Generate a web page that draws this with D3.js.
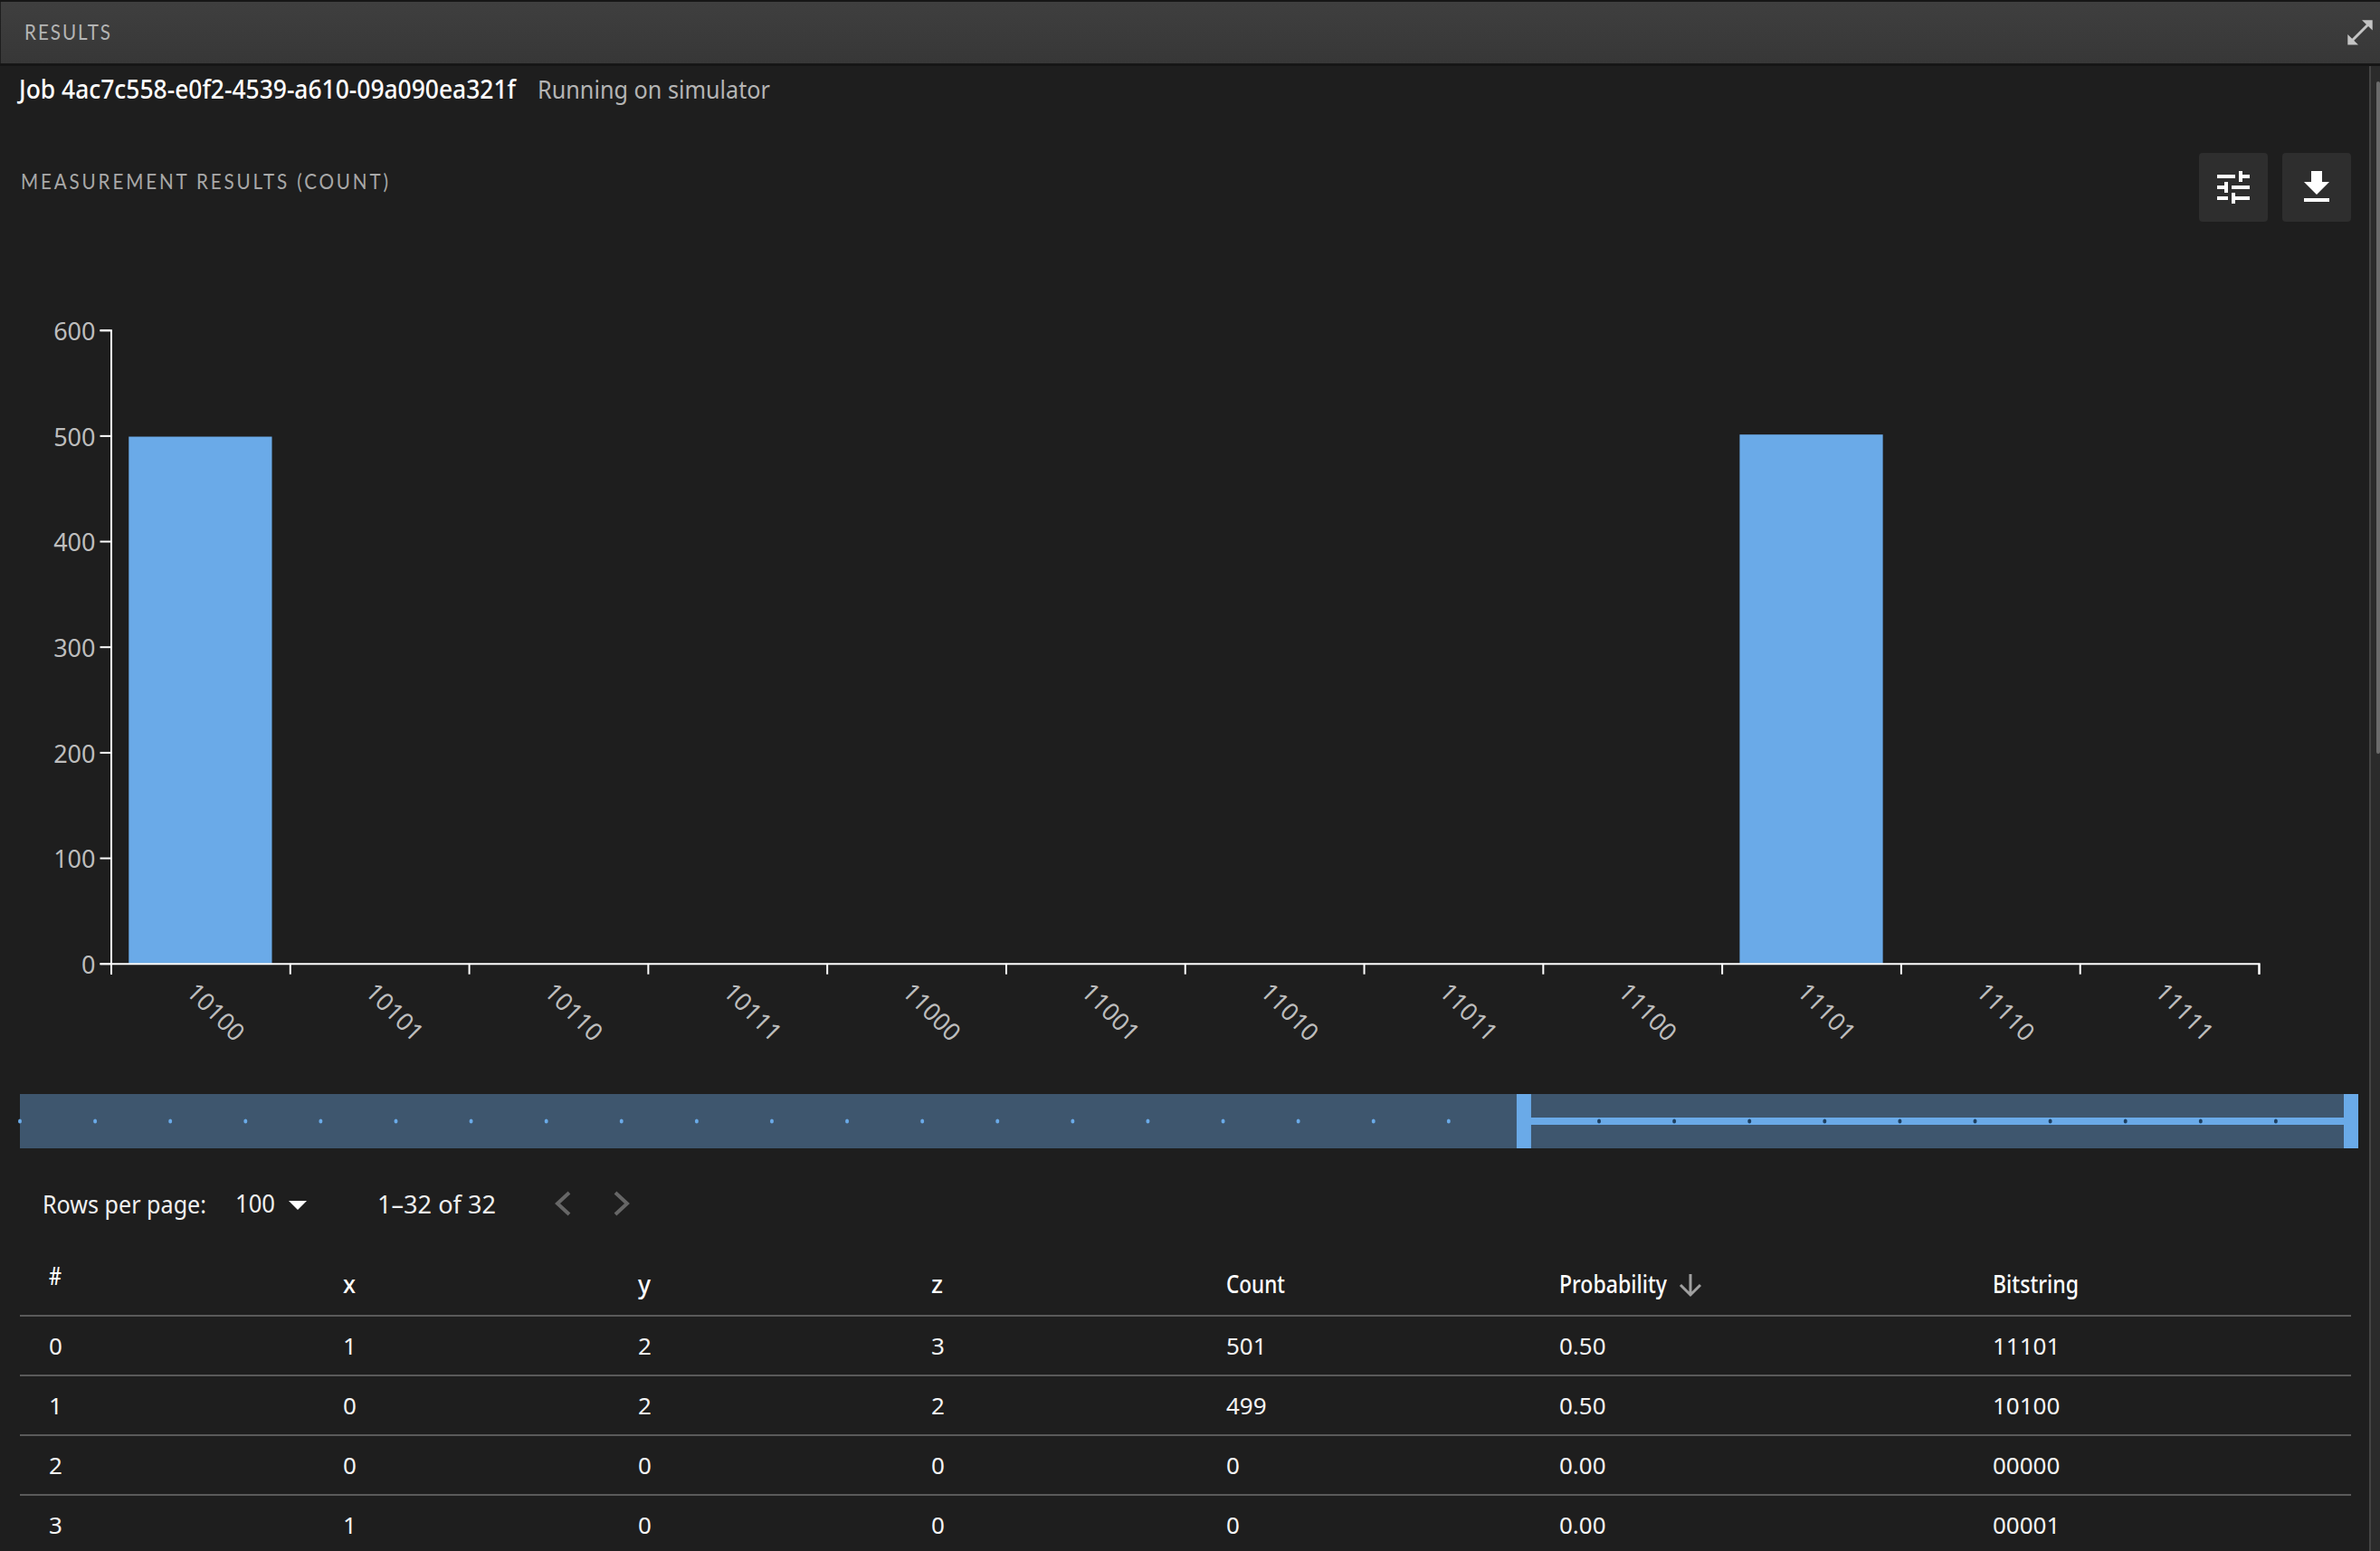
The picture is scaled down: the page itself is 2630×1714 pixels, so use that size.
<!DOCTYPE html>
<html>
<head>
<meta charset="utf-8">
<title>Measurement results</title>
<script src="https://cdn.jsdelivr.net/npm/d3@7/dist/d3.min.js"></script>
<style>
  html, body { margin: 0; padding: 0; background: #1e1e1e; overflow: hidden; }
  svg { display: block; }
  text { font-family: "Noto Sans", "Open Sans", sans-serif; }
  text.caps { font-family: "Lato", sans-serif; }
</style>
</head>
<body>
<svg id="panel" width="2630" height="1714"></svg>
<script>
// Every basis state of the 5-qubit register, in axis order.
const allBitstrings = [
  "00000","00001","00010","00011","00100","00101","00110","00111",
  "01000","01001","01010","01011","01100","01101","01110","01111",
  "10000","10001","10010","10011","10100","10101","10110","10111",
  "11000","11001","11010","11011","11100","11101","11110","11111"
];
// Part of the range currently selected by the brush.
const selectedCategories = allBitstrings.slice(20);
const selectedCounts = [499, 0, 0, 0, 0, 0, 0, 0, 0, 501, 0, 0];
const countTicks = [0, 100, 200, 300, 400, 500, 600];

// Table page.
const tableColumns = ["#", "x", "y", "z", "Count", "Probability", "Bitstring"];
const rowIds = ["0", "1", "2", "3"];
const rowX = ["1", "0", "0", "1"];
const rowY = ["2", "2", "0", "0"];
const rowZ = ["3", "2", "0", "0"];
const rowCounts = ["501", "499", "0", "0"];
const rowProbabilities = ["0.50", "0.50", "0.00", "0.00"];
const rowBitstrings = ["11101", "10100", "00000", "00001"];

const BLUE = "#6aaae8";
const svg = d3.select("#panel");

function label(parent, str, x, y, size, fill, opts = {}) {
  return parent.append("text").attr("x", x).attr("y", y)
    .attr("class", opts.cls || null)
    .attr("font-size", size).attr("fill", fill)
    .attr("font-weight", opts.weight || 400)
    .attr("textLength", opts.width || null)
    .attr("lengthAdjust", opts.width ? "spacingAndGlyphs" : null)
    .text(str);
}

// Condensed, tracked capitals for the section headings.
function capsLabel(parent, str, x, y, size, fill, width) {
  const squeeze = 0.86;
  return parent.append("text").attr("class", "caps")
    .attr("transform", `translate(${x},${y}) scale(${squeeze},1)`)
    .attr("font-size", size).attr("fill", fill)
    .attr("textLength", width / squeeze).attr("lengthAdjust", "spacing")
    .text(str);
}

// Panel header
const defs = svg.append("defs");
const headGrad = defs.append("linearGradient").attr("id", "head").attr("x2", 0).attr("y2", 1);
headGrad.append("stop").attr("offset", 0).attr("stop-color", "#3f3f3f");
headGrad.append("stop").attr("offset", 1).attr("stop-color", "#373737");
svg.append("rect").attr("width", 2630).attr("height", 2).attr("fill", "#161616");
svg.append("rect").attr("x", 1).attr("y", 2).attr("width", 2629).attr("height", 68).attr("fill", "url(#head)");
svg.append("rect").attr("y", 70).attr("width", 2630).attr("height", 3).attr("fill", "#161616");
capsLabel(svg, "RESULTS", 27, 44, 24, "#b4b4b4", 95);
svg.append("path").attr("fill", "#c4c4c4")
  .attr("d", "M2594.3 49.5V38L2606 49.5ZM2621.7 22.3H2610L2621.7 33.5Z");
svg.append("path").attr("stroke", "#c4c4c4").attr("stroke-width", 3).attr("fill", "none")
  .attr("d", "M2599 45L2617 27");

// Job line
label(svg, "Job 4ac7c558-e0f2-4539-a610-09a090ea321f", 21, 109, 28, "#ffffff", { weight: 500, width: 549 });
label(svg, "Running on simulator", 594, 109, 28, "#b4b4b4", { width: 257 });
capsLabel(svg, "MEASUREMENT RESULTS (COUNT)", 23, 209, 24, "#a8a8a8", 406);

// Toolbar buttons
[2430, 2522].forEach(x => svg.append("rect").attr("x", x).attr("y", 169)
  .attr("width", 76).attr("height", 76).attr("rx", 4).attr("fill", "#2e2e2e"));
svg.append("path").attr("fill", "#fff").attr("transform", "translate(2444,183) scale(2)")
  .attr("d", "M3 17v2h6v-2H3zM3 5v2h10V5H3zm10 16v-2h8v-2h-8v-2h-2v6h2zM7 9v2H3v2h4v2h2V9H7zm14 4v-2H11v2h10zm-6-4h2V7h4V5h-4V3h-2v6z");
svg.append("path").attr("fill", "#fff").attr("transform", "translate(2536,183) scale(2)")
  .attr("d", "M19 9h-4V3H9v6H5l7 7 7-7zM5 18v2h14v-2H5z");

// Scrollbar
svg.append("rect").attr("x", 2618).attr("y", 73).attr("width", 2).attr("height", 1641).attr("fill", "#444");
svg.append("rect").attr("x", 2620).attr("y", 73).attr("width", 10).attr("height", 1641).attr("fill", "#2b2b2b");
svg.append("rect").attr("x", 2626).attr("y", 90).attr("width", 4).attr("height", 743).attr("rx", 2).attr("fill", "#6b6b6b");

// Bar chart
const chartLeft = 122.5, chartRight = 2496, chartTop = 364.7, chartBottom = 1064.7;
const x = d3.scaleBand().domain(selectedCategories).range([chartLeft, chartRight])
  .paddingInner(0.2).paddingOuter(0.1);
const edge = d3.scaleLinear().domain([0, selectedCategories.length]).range([chartLeft, chartRight]);
const y = d3.scaleLinear().domain([0, 600]).range([chartBottom, chartTop]);

const chart = svg.append("g");
chart.selectAll("rect.bar").data(selectedCounts).join("rect").attr("class", "bar")
  .attr("x", (d, i) => x(selectedCategories[i]))
  .attr("width", x.bandwidth())
  .attr("y", d => y(d))
  .attr("height", d => y(0) - y(d))
  .attr("fill", BLUE);

const yAxis = chart.append("g").attr("transform", `translate(${chartLeft},0)`)
  .call(d3.axisLeft(y).tickValues(countTicks).tickSize(12).tickPadding(5));
yAxis.selectAll("text").attr("font-size", 27).attr("fill", "#bdbdbd").attr("font-family", "Lato").attr("dy", "0.4em");

// Edge ticks sit between the bands, labels hang off the band centres.
const edgeAxis = chart.append("g").attr("transform", `translate(0,${chartBottom})`)
  .call(d3.axisBottom(edge).tickValues(d3.range(selectedCategories.length + 1)).tickSize(12).tickFormat(""));
const xAxis = chart.append("g").attr("transform", `translate(0,${chartBottom})`)
  .call(d3.axisBottom(x).tickSize(0));
xAxis.select(".domain").remove();
xAxis.selectAll("text")
  .attr("font-size", 27).attr("fill", "#bdbdbd").attr("font-family", "Lato")
  .attr("text-anchor", "start").attr("dy", 0).attr("y", 0)
  .attr("transform", "translate(-17,33) rotate(45)");
[yAxis, edgeAxis].forEach(a => {
  a.selectAll(".domain").attr("stroke", "#fff").attr("stroke-width", 2);
  a.selectAll("line").attr("stroke", "#fff").attr("stroke-width", 2);
});

// Range brush with its overview dots
const overview = d3.scalePoint().domain(allBitstrings).range([22, 2598]);
const brush = svg.append("g");
const stripTop = 1209, stripBottom = 1269, stripMid = 1239;
brush.append("rect").attr("x", overview.range()[0]).attr("y", stripTop)
  .attr("width", overview.range()[1] - overview.range()[0]).attr("height", stripBottom - stripTop)
  .attr("fill", "#3e566e");
const selStart = overview(selectedCategories[0]);
const selEnd = overview(selectedCategories[selectedCategories.length - 1]);
brush.append("rect").attr("x", selStart).attr("y", stripMid - 4)
  .attr("width", selEnd - selStart).attr("height", 8).attr("fill", BLUE);
brush.selectAll("ellipse").data(allBitstrings).join("ellipse")
  .attr("cx", d => overview(d)).attr("cy", stripMid).attr("rx", 2).attr("ry", 2.5)
  .attr("fill", d => selectedCategories.includes(d) ? "#1e3f5f" : BLUE);
[selStart, selEnd].forEach(c => brush.append("rect").attr("x", c - 8).attr("y", stripTop)
  .attr("width", 16).attr("height", stripBottom - stripTop).attr("fill", BLUE));

// Pagination
label(svg, "Rows per page:", 47, 1341, 28, "#f0f0f0", { width: 181 });
label(svg, "100", 260, 1340, 28, "#f0f0f0", { width: 44 });
svg.append("path").attr("d", "M319 1327H339L329 1337Z").attr("fill", "#fff");
label(svg, "1–32 of 32", 417, 1341, 28, "#f0f0f0", { width: 131 });
["M629 1318L616 1330L629 1342", "M680 1318L693 1330L680 1342"].forEach(d =>
  svg.append("path").attr("d", d).attr("fill", "none").attr("stroke", "#666").attr("stroke-width", 4));

// Results table
const columnX = [54, 379, 705, 1029, 1355, 1723, 2202];
const columnWidth = [14, 14, 14, 13, 65, 119, 95];
const table = svg.append("g");
tableColumns.forEach((c, i) => label(table, c, columnX[i], i === 0 ? 1420 : 1429, 27, "#fff",
  { weight: 500, width: columnWidth[i] }));
table.append("path").attr("fill", "none").attr("stroke", "#a0a0a0").attr("stroke-width", 3)
  .attr("d", "M1868 1408V1431M1857 1420L1868 1431L1879 1420");

const rowColumns = [rowIds, rowX, rowY, rowZ, rowCounts, rowProbabilities, rowBitstrings];
const rowBaseline = d3.scaleLinear().domain([0, 1]).range([1497, 1563]);
const ruleY = d3.scaleLinear().domain([0, 1]).range([1454, 1520]);
d3.range(5).forEach(r => table.append("line").attr("x1", 22).attr("x2", 2598)
  .attr("y1", ruleY(r)).attr("y2", ruleY(r)).attr("stroke", "#5a5a5a").attr("stroke-width", 2));
rowColumns.forEach((col, c) => col.forEach((v, r) =>
  label(table, v, columnX[c], rowBaseline(r), 26, "#f4f4f4")));
</script>
</body>
</html>
